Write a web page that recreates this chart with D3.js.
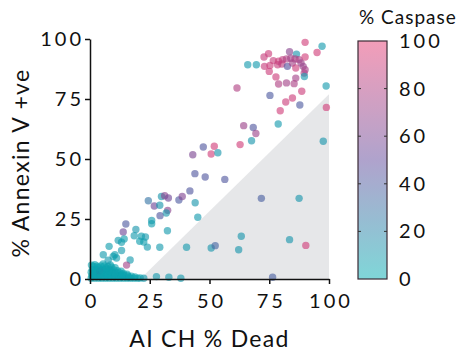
<!DOCTYPE html>
<html>
<head>
<meta charset="utf-8">
<script src="https://cdn.jsdelivr.net/npm/d3@7"></script>
<style>
  body { margin: 0; background: #fff; }
  text { font-family: Lato, "Open Sans", sans-serif; fill: #111; }
</style>
</head>
<body>
<div id="chart"></div>
<script>
// x = AI CH % Dead, y = % Annexin V +ve, c = % Caspase
const scatterPoints = [
  [90,98.6,92],[97.1,97,10],[95,94.4,92],[74.7,93.9,90],[83.5,94.7,65],[86.4,93.7,12],
  [72.8,92.5,88],[66,89.3,10],[69.6,89.3,10],[73,88.6,88],[75.3,89,90],[76.7,91,88],
  [78.9,90.7,90],[80.6,91.4,85],[82.2,91.7,80],[84,92,75],[85.8,91.7,80],[87.5,91.4,78],
  [90,92.5,92],[78.5,89.3,88],[80.3,89.6,85],[82.6,88.6,45],[84.7,90,75],[86.1,87.9,90],
  [88.3,90,72],[89.2,88.6,70],[90,87.2,75],[89.6,85.8,80],[89.7,84.4,10],[75,86.5,90],
  [77.8,84.2,90],[86.1,83.7,75],[78.9,81.25,80],[82.2,81.7,75],[85.4,81.4,78],[88.6,78.2,90],
  [98.8,80.4,10],[61.5,79.6,80],[75.3,76.5,40],[81.9,73.75,90],[84.7,75.4,90],[87.8,72.5,40],
  [98.9,71.5,92],[79.6,70.1,92],[78.75,64.6,10],[64.3,63.9,72],[68.3,63.1,42],[69.4,60.6,72],
  [67.6,57.6,12],[97.6,57.4,12],[62.8,56,92],[47.4,55,42],[52,55.3,92],[50.7,52.1,92],
  [53.5,52.6,12],[43,51.8,60],[43.9,43.9,42],[48.2,42.5,42],[56.4,41.5,42],[41.8,36.7,42],
  [37.2,32.9,40],[38.6,34.4,62],[44,31.8,12],[45.1,25.7,10],[24.4,32.6,28],[29.9,34.4,12],
  [31.25,34.7,65],[32.8,33.75,55],[26.9,30.4,55],[29.2,30.7,12],[32.5,28.6,65],[31.9,27.5,12],
  [29.3,26.4,42],[25.8,24.4,10],[25.8,23,8],[32.4,20.1,10],[15,22.9,40],[13.9,19.6,55],
  [19.2,20.6,12],[18.5,18,10],[21.5,17.8,8],[23.2,17.5,10],[20.8,15.7,8],[22.5,15.4,8],
  [14.3,16.7,8],[11.8,16.1,10],[13.2,15.3,8],[24,13.3,10],[8,13.6,8],[13.2,11.9,10],
  [10.4,10.1,8],[9.7,9.4,8],[11.1,8.75,8],[5.55,10.1,10],[16.8,7.9,10],[7.6,7.8,10],
  [15.3,5.8,75],[29.2,13.2,10],[40.4,13.2,10],[50.7,12.9,12],[52.4,13.9,35],[63.3,17.8,12],
  [62.2,12.2,12],[71.7,33.6,38],[87.5,33.6,12],[83.5,16.4,12],[90.3,14,92],[76.4,0.7,38],
  [27.8,1,10],[33,0.7,10],[38,0.3,10],[22.5,0.3,10]
];

// dense blob of low-death samples in the corner
const clusterPoints = [
  [0.5,0.3,6],[2,0.3,6],[3.5,0.3,5],[5,0.3,6],[6.5,0.3,5],[8,0.3,6],[9.5,0.3,5],[11,0.3,6],
  [12.5,0.3,5],[14,0.3,6],[15.5,0.3,5],[17,0.3,6],[18.5,0.3,5],[20,0.3,6],[21,0.4,5],
  [0.8,1.5,6],[2.3,1.5,5],[3.8,1.5,6],[5.3,1.5,5],[6.8,1.5,6],[8.3,1.5,5],[9.8,1.5,6],
  [11.3,1.5,5],[12.8,1.5,6],[14.3,1.5,5],[15.8,1.4,6],[17.3,1.2,5],[18.8,0.9,6],
  [0.5,2.8,6],[2,2.8,5],[3.5,2.8,6],[5,2.8,5],[6.5,2.8,6],[8,2.8,5],[9.5,2.8,6],
  [11,2.7,5],[12.5,2.5,6],[14,2.3,5],[15.5,2,6],
  [1,4,6],[2.5,4,5],[4,4.1,6],[5.5,4.1,5],[7,4,6],[8.5,3.9,5],[10,3.8,6],[11.5,3.5,5],[13,3.2,6],
  [1.5,5.2,6],[3,5.3,5],[4.5,5.4,6],[6,5.4,5],[7.5,5.2,6],[9,5,5],[10.5,4.7,6],
  [2,6,6],[5.5,6.3,5],[8.5,5.9,6],[0.6,5.8,5],[4,3.3,30],
  [1.2,0.9,5],[4.2,0.9,6],[7.2,0.9,5],[10.2,0.9,6],[13.2,0.9,5],[16.2,0.7,6],
  [1.4,2.2,5],[4.4,2.2,6],[7.4,2.2,5],[10.4,2.1,6],[13.4,1.9,5],
  [2,3.5,6],[5,3.5,5],[8,3.4,6],[3.5,4.7,5],[6.8,4.6,6]
];

const shadeRegion = [[21,0],[100,0],[100,77]];

const xTicks = [0,25,50,75,100];
const yTicks = [0,25,50,75,100];
const caspaseTicks = [0,20,40,60,80,100];
const colourStops = ["#00adb1","#60479a","#e63c73"];

const W = 462, H = 356;
const plot = {left: 90, right: 329, top: 39, bottom: 279};

const svg = d3.select("#chart").append("svg")
    .attr("width", W)
    .attr("height", H)
    .attr("viewBox", `0 0 ${W} ${H}`);

const x = d3.scaleLinear().domain([0,100]).range([plot.left, plot.right]);
const y = d3.scaleLinear().domain([0,100]).range([plot.bottom, plot.top]);
const colour = d3.scaleLinear().domain([0,50,100]).range(colourStops);

// grey area below the threshold line
svg.append("path")
    .attr("d", d3.line().x(d => x(d[0])).y(d => y(d[1]))(shadeRegion) + "Z")
    .attr("fill", "#e6e7e9");

const dots = svg.append("g");
dots.selectAll("circle.c")
    .data(clusterPoints)
    .join("circle")
    .attr("class", "c")
    .attr("cx", d => x(d[0]))
    .attr("cy", d => y(d[1]))
    .attr("r", 3.7)
    .attr("fill", d => colour(d[2]))
    .attr("fill-opacity", 0.6);

dots.selectAll("circle.s")
    .data(scatterPoints)
    .join("circle")
    .attr("class", "s")
    .attr("cx", d => x(d[0]))
    .attr("cy", d => y(d[1]))
    .attr("r", 3.7)
    .attr("fill", d => colour(d[2]))
    .attr("fill-opacity", 0.62);

// axes
const xAxis = svg.append("g")
    .attr("transform", `translate(0,${plot.bottom})`)
    .call(d3.axisBottom(x).tickValues(xTicks).tickSize(5).tickSizeOuter(0).tickPadding(10));
const yAxis = svg.append("g")
    .attr("transform", `translate(${plot.left},0)`)
    .call(d3.axisLeft(y).tickValues(yTicks).tickSize(5).tickSizeOuter(0).tickPadding(1));

[xAxis, yAxis].forEach(a => {
  a.selectAll("path, line").attr("stroke", "#111").attr("stroke-width", 1.5);
  a.selectAll("text").style("font-size", "20px").attr("fill", "#111")
      .style("letter-spacing", "3px")
      .style("font-family", "Lato, sans-serif");
});
xAxis.selectAll("text").attr("dx", 1.5);

svg.append("text")
    .attr("x", (plot.left + plot.right) / 2)
    .attr("y", 347)
    .attr("text-anchor", "middle")
    .style("font-size", "23px")
    .style("letter-spacing", "1.3px")
    .text("AI CH % Dead");

svg.append("text")
    .attr("transform", `translate(29,${(plot.top + plot.bottom) / 2 + 4}) rotate(-90)`)
    .attr("text-anchor", "middle")
    .style("font-size", "23px")
    .style("letter-spacing", "1.3px")
    .text("% Annexin V +ve");

// colour bar legend
const bar = {x: 358, w: 29};
const cb = d3.scaleLinear().domain([0,100]).range([plot.bottom, plot.top + 2]);

const grad = svg.append("defs").append("linearGradient")
    .attr("id", "caspase")
    .attr("x1", 0).attr("y1", 1).attr("x2", 0).attr("y2", 0);
grad.selectAll("stop")
    .data(d3.range(0, 101, 10))
    .join("stop")
    .attr("offset", d => d + "%")
    .attr("stop-color", d => colour(d));

svg.append("rect")
    .attr("x", bar.x)
    .attr("y", cb(100))
    .attr("width", bar.w)
    .attr("height", cb(0) - cb(100))
    .attr("fill", "url(#caspase)")
    .attr("fill-opacity", 0.5)
    .attr("stroke", "#3a2a35")
    .attr("stroke-width", 1.2);

const inner = caspaseTicks.filter(t => t > 0 && t < 100);
svg.append("g").selectAll("line")
    .data(inner.flatMap(t => [[t, bar.x, bar.x + 3], [t, bar.x + bar.w - 3, bar.x + bar.w]]))
    .join("line")
    .attr("x1", d => d[1]).attr("x2", d => d[2])
    .attr("y1", d => cb(d[0])).attr("y2", d => cb(d[0]))
    .attr("stroke", "#333").attr("stroke-width", 1);

svg.append("g").selectAll("text")
    .data(caspaseTicks)
    .join("text")
    .attr("x", 399)
    .attr("y", d => cb(d))
    .attr("dy", "0.35em")
    .style("font-size", "20px")
    .style("letter-spacing", "3px")
    .text(d => d);

svg.append("text")
    .attr("x", 359)
    .attr("y", 24)
    .style("font-size", "19px")
    .style("letter-spacing", "1px")
    .text("% Caspase");
</script>
</body>
</html>
